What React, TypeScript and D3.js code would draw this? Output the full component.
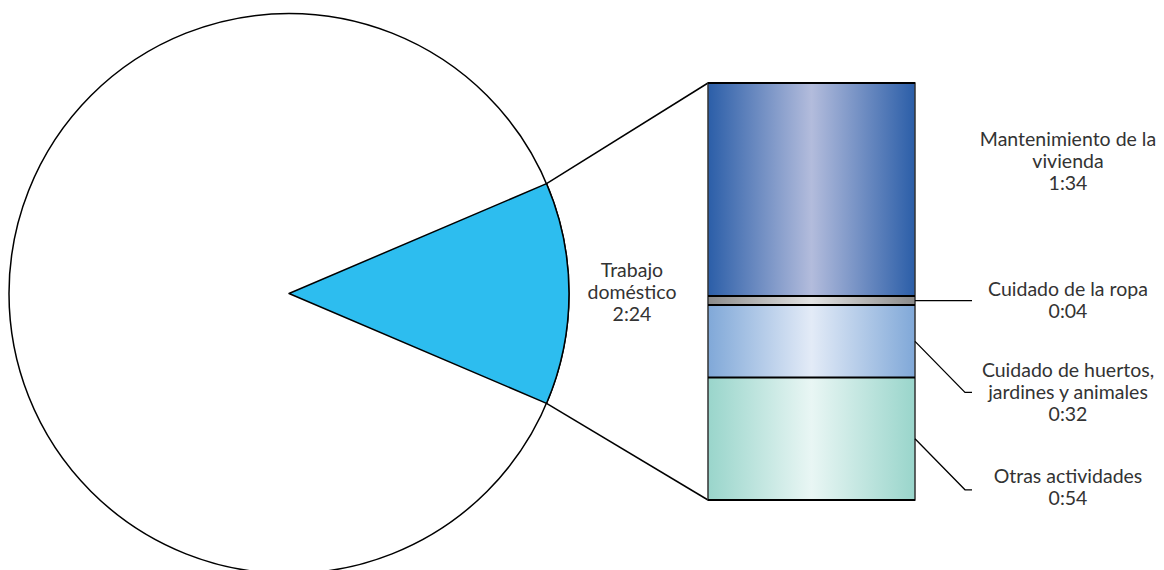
import React from 'react';
import * as d3 from 'd3';

// pie: domestic work vs the rest of the day (rest)
const pieLabels = ['Trabajo doméstico', 'Resto'];
const pieMinutes = [144, 978];
const pieColors = ['#2dbdef', '#ffffff'];

// breakdown bar, top to bottom
const barLabels = [
  ['Mantenimiento de la', 'vivienda', '1:34'],
  ['Cuidado de la ropa', '0:04'],
  ['Cuidado de huertos,', 'jardines y animales', '0:32'],
  ['Otras actividades', '0:54'],
];
const barMinutes = [94, 4, 32, 54];
const barEdge = ['#2b5ea8', '#8a8a8a', '#80a8d8', '#99d5cb'];
const barMid = ['#b3bcdc', '#e3e3e3', '#e3ebf7', '#e9f6f4'];

const W = 1164;
const H = 570;
const cx = 289;
const cy = 293.5;
const r = 280;
const bx0 = 708;
const bx1 = 915;
const font = 'Lato, "Open Sans", sans-serif';

const App = () => {
  const total = d3.sum(pieMinutes);
  const theta = (2 * Math.PI * pieMinutes[0]) / total;
  const start = Math.PI / 2 - theta / 2;
  const pie = d3.pie<number>().sort(null).startAngle(start).endAngle(start + 2 * Math.PI);
  const arcs = pie(pieMinutes);
  const arc = d3.arc<d3.PieArcDatum<number>>().innerRadius(0).outerRadius(r);

  const wedge = arcs[0];
  const pt = (a: number) => [cx + r * Math.sin(a), cy - r * Math.cos(a)];
  const pTop = pt(wedge.startAngle);
  const pBot = pt(wedge.endAngle);

  const y = d3.scaleLinear().domain([0, d3.sum(barMinutes)]).range([83, 500]);
  const cum = d3.cumsum(barMinutes);
  const segs = barMinutes.map((v, i) => ({ y0: y(cum[i] - v), y1: y(cum[i]), i }));

  const labelX = 1068;
  const lineH = 22;
  const labelTop = [146, 296, 377, 483];

  return (
    <svg width={W} height={H} style={{ position: 'absolute', left: 0, top: 0 }}>
      <defs>
        {barEdge.map((c, i) => (
          <linearGradient key={i} id={`g${i}`} x1="0" x2="1" y1="0" y2="0">
            <stop offset="0" stopColor={c} />
            <stop offset="0.5" stopColor={barMid[i]} />
            <stop offset="1" stopColor={c} />
          </linearGradient>
        ))}
      </defs>

      <circle cx={cx} cy={cy} r={r} fill="#fff" stroke="#000" strokeWidth={1.5} />
      <path
        d={arc(wedge) || ''}
        transform={`translate(${cx},${cy})`}
        fill={pieColors[0]}
        stroke="#000"
        strokeWidth={1.5}
        strokeLinejoin="round"
      />

      <line x1={pTop[0]} y1={pTop[1]} x2={bx0} y2={y(0)} stroke="#000" strokeWidth={1.5} />
      <line x1={pBot[0]} y1={pBot[1]} x2={bx0} y2={y(d3.sum(barMinutes))} stroke="#000" strokeWidth={1.5} />

      {segs.map(s => (
        <rect key={s.i} x={bx0} y={s.y0} width={bx1 - bx0} height={s.y1 - s.y0} fill={`url(#g${s.i})`} />
      ))}
      <rect x={bx0} y={y(0)} width={bx1 - bx0} height={y(d3.sum(barMinutes)) - y(0)} fill="none" stroke="#333" strokeWidth={1.5} />
      {segs.slice(1).map(s => (
        <line key={s.i} x1={bx0} x2={bx1} y1={s.y0} y2={s.y0} stroke="#000" strokeWidth={2} />
      ))}
      <line x1={bx0} x2={bx1} y1={y(0)} y2={y(0)} stroke="#000" strokeWidth={2} />
      <line x1={bx0} x2={bx1} y1={y(d3.sum(barMinutes))} y2={y(d3.sum(barMinutes))} stroke="#000" strokeWidth={2} />

      {/* leaders */}
      {segs.slice(1).map(s => {
        const my = (s.y0 + s.y1) / 2;
        const d =
          s.i === 1
            ? `M${bx1},${my}H972`
            : `M${bx1},${my}L965,${my + 51}H972`;
        return <path key={s.i} d={d} fill="none" stroke="#000" strokeWidth={1.3} />;
      })}

      <g fontFamily={font} fontSize={19.5} fill="#333" textAnchor="middle">
        <text x={632} y={277}>
          {['Trabajo', 'doméstico', '2:24'].map((t, j) => (
            <tspan key={j} x={632} dy={j === 0 ? 0 : lineH}>{t}</tspan>
          ))}
        </text>
        {barLabels.map((lines, i) => (
          <text key={i} x={labelX} y={labelTop[i]}>
            {lines.map((t, j) => (
              <tspan key={j} x={labelX} dy={j === 0 ? 0 : lineH}>{t}</tspan>
            ))}
          </text>
        ))}
      </g>
    </svg>
  );
};

export default App;
